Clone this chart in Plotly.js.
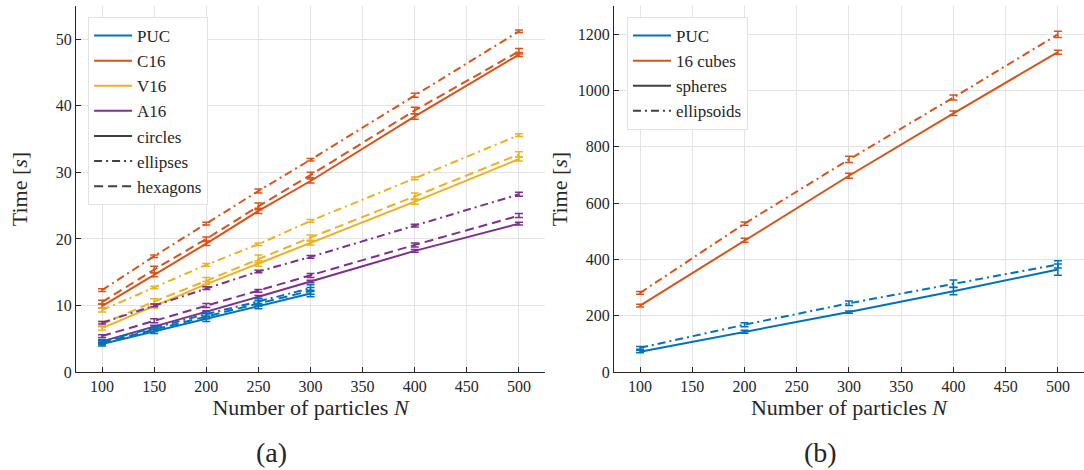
<!DOCTYPE html>
<html>
<head>
<meta charset="utf-8">
<script src="https://cdn.plot.ly/plotly-3.0.1.min.js"></script>
<style>
  html, body { margin: 0; padding: 0; background: #ffffff; }
  #chart { width: 1084px; height: 470px; }
</style>
</head>
<body>
<div id="chart"></div>
<script>
// ---- (a) 2D particles: N = number of particles ----
const nA = [100, 150, 200, 250, 300, 400, 500];
const nPUC2d = [100, 150, 200, 250, 300];

const puc_circles   = [4.2, 6.1, 8.0, 9.9, 11.8];
const puc_ellipses  = [4.6, 6.7, 8.7, 10.6, 12.6];
const puc_hexagons  = [4.4, 6.4, 8.4, 10.3, 12.2];
const puc_circles_err  = [0.3, 0.3, 0.4, 0.4, 0.5];
const puc_ellipses_err = [0.3, 0.3, 0.4, 0.4, 0.5];
const puc_hexagons_err = [0.3, 0.3, 0.4, 0.4, 0.5];

const c16_circles   = [9.9, 14.6, 19.3, 24.2, 28.7, 38.4, 47.7];
const c16_ellipses  = [12.3, 17.4, 22.3, 27.2, 31.9, 41.6, 51.2];
const c16_hexagons  = [10.5, 15.4, 20.0, 24.9, 29.6, 39.3, 48.2];
const c16_circles_err  = [0.3, 0.3, 0.3, 0.4, 0.3, 0.4, 0.3];
const c16_ellipses_err = [0.2, 0.2, 0.2, 0.3, 0.2, 0.3, 0.2];
const c16_hexagons_err = [0.3, 0.5, 0.3, 0.5, 0.4, 0.5, 0.4];

const v16_circles   = [6.6, 9.9, 13.2, 16.3, 19.4, 25.6, 32.0];
const v16_ellipses  = [9.3, 12.7, 16.1, 19.2, 22.7, 29.1, 35.6];
const v16_hexagons  = [7.2, 10.6, 13.7, 17.0, 20.2, 26.4, 32.7];
const v16_circles_err  = [0.3, 0.3, 0.4, 0.4, 0.3, 0.4, 0.3];
const v16_ellipses_err = [0.3, 0.2, 0.2, 0.2, 0.2, 0.2, 0.2];
const v16_hexagons_err = [0.4, 0.4, 0.5, 0.6, 0.4, 0.5, 0.4];

const a16_circles   = [4.6, 6.8, 9.0, 11.3, 13.6, 18.2, 22.3];
const a16_ellipses  = [7.4, 10.0, 12.6, 15.1, 17.3, 22.0, 26.7];
const a16_hexagons  = [5.4, 7.7, 10.0, 12.2, 14.5, 19.1, 23.5];
const a16_circles_err  = [0.2, 0.2, 0.2, 0.2, 0.2, 0.2, 0.2];
const a16_ellipses_err = [0.2, 0.2, 0.2, 0.2, 0.2, 0.2, 0.3];
const a16_hexagons_err = [0.2, 0.3, 0.3, 0.2, 0.3, 0.3, 0.3];

// ---- (b) 3D particles ----
const nB = [100, 200, 300, 400, 500];
const puc_spheres     = [72, 143, 213, 287, 364];
const puc_ellipsoids  = [86, 168, 244, 314, 382];
const puc_spheres_err    = [4, 5, 4, 13, 20];
const puc_ellipsoids_err = [5, 7, 8, 13, 13];
const cubes_spheres    = [236, 468, 697, 919, 1136];
const cubes_ellipsoids = [281, 527, 755, 975, 1199];
const cubes_spheres_err    = [5, 7, 9, 8, 7];
const cubes_ellipsoids_err = [5, 6, 11, 9, 11];

// MATLAB default colour order
const BLUE = '#0072BD', ORANGE = '#D95319', YELLOW = '#EDB120', PURPLE = '#7E2F8E';
const STYLE_GRAY = '#404040';
const DASHDOT = '8px,4px,2px,4px';
const DASHED = '9px,5px';
const FONT = '"Liberation Serif", "DejaVu Serif", serif';
const INK = '#262626';

function series(x, y, err, color, dash, xa, ya) {
  return {
    type: 'scatter', mode: 'lines', x: x, y: y,
    xaxis: xa, yaxis: ya, showlegend: false, hoverinfo: 'x+y',
    line: { color: color, width: 2, dash: dash },
    error_y: { type: 'data', array: err, visible: true, color: color, thickness: 1.5, width: 4 }
  };
}
function key(name, color, dash, legend) {
  const left = legend === 'legend';
  return {
    type: 'scatter', mode: 'lines', x: [null], y: [null], name: name,
    legend: legend, showlegend: true, xaxis: left ? 'x' : 'x2', yaxis: left ? 'y' : 'y2',
    line: { color: color, width: 2, dash: dash }
  };
}

const traces = [
  series(nA, c16_circles,  c16_circles_err,  ORANGE, 'solid', 'x', 'y'),
  series(nA, c16_ellipses, c16_ellipses_err, ORANGE, DASHDOT, 'x', 'y'),
  series(nA, c16_hexagons, c16_hexagons_err, ORANGE, DASHED, 'x', 'y'),
  series(nA, v16_circles,  v16_circles_err,  YELLOW, 'solid', 'x', 'y'),
  series(nA, v16_ellipses, v16_ellipses_err, YELLOW, DASHDOT, 'x', 'y'),
  series(nA, v16_hexagons, v16_hexagons_err, YELLOW, DASHED, 'x', 'y'),
  series(nA, a16_circles,  a16_circles_err,  PURPLE, 'solid', 'x', 'y'),
  series(nA, a16_ellipses, a16_ellipses_err, PURPLE, DASHDOT, 'x', 'y'),
  series(nA, a16_hexagons, a16_hexagons_err, PURPLE, DASHED, 'x', 'y'),
  series(nPUC2d, puc_circles,  puc_circles_err,  BLUE, 'solid', 'x', 'y'),
  series(nPUC2d, puc_ellipses, puc_ellipses_err, BLUE, DASHDOT, 'x', 'y'),
  series(nPUC2d, puc_hexagons, puc_hexagons_err, BLUE, DASHED, 'x', 'y'),

  series(nB, cubes_spheres,    cubes_spheres_err,    ORANGE, 'solid', 'x2', 'y2'),
  series(nB, cubes_ellipsoids, cubes_ellipsoids_err, ORANGE, DASHDOT, 'x2', 'y2'),
  series(nB, puc_spheres,      puc_spheres_err,      BLUE, 'solid', 'x2', 'y2'),
  series(nB, puc_ellipsoids,   puc_ellipsoids_err,   BLUE, DASHDOT, 'x2', 'y2'),

  key('PUC', BLUE, 'solid', 'legend'),
  key('C16', ORANGE, 'solid', 'legend'),
  key('V16', YELLOW, 'solid', 'legend'),
  key('A16', PURPLE, 'solid', 'legend'),
  key('circles', STYLE_GRAY, 'solid', 'legend'),
  key('ellipses', STYLE_GRAY, DASHDOT, 'legend'),
  key('hexagons', STYLE_GRAY, DASHED, 'legend'),

  key('PUC', BLUE, 'solid', 'legend2'),
  key('16 cubes', ORANGE, 'solid', 'legend2'),
  key('spheres', STYLE_GRAY, 'solid', 'legend2'),
  key('ellipsoids', STYLE_GRAY, DASHDOT, 'legend2')
];

const xTicks = [100, 150, 200, 250, 300, 350, 400, 450, 500];
function xaxis(domain, anchor) {
  return {
    domain: domain, anchor: anchor, range: [75, 525],
    tickvals: xTicks, ticks: 'inside', ticklen: 5, tickcolor: INK,
    showline: true, linecolor: INK, linewidth: 1, mirror: false,
    showgrid: true, gridcolor: '#e3e3e3', gridwidth: 1, zeroline: false,
    tickfont: { family: FONT, size: 16, color: INK },
    title: { text: 'Number of particles <i>N</i>', font: { family: FONT, size: 22, color: INK }, standoff: 4 }
  };
}
function yaxis(range, dtick, anchor, standoff) {
  return {
    domain: [0, 1], anchor: anchor, range: range, dtick: dtick, tick0: 0,
    ticks: 'inside', ticklen: 5, tickcolor: INK,
    showline: true, linecolor: INK, linewidth: 1, mirror: false,
    showgrid: true, gridcolor: '#e3e3e3', gridwidth: 1, zeroline: false,
    tickfont: { family: FONT, size: 16, color: INK },
    title: { text: 'Time [<i>s</i>]', font: { family: FONT, size: 22, color: INK }, standoff: standoff }
  };
}
function legendBox(x) {
  return {
    x: x, y: 0.97, xanchor: 'left', yanchor: 'top',
    bgcolor: '#ffffff', bordercolor: '#e2e2e2', borderwidth: 1,
    font: { family: FONT, size: 17, color: INK },
    itemwidth: 38, tracegroupgap: 0
  };
}

const layout = {
  width: 1084, height: 470,
  margin: { l: 76, r: 0, t: 6, b: 98 },
  paper_bgcolor: '#ffffff', plot_bgcolor: '#ffffff',
  showlegend: true,
  xaxis: xaxis([0, 0.4653], 'y'),
  yaxis: yaxis([0, 55], 10, 'x', 22),
  xaxis2: xaxis([0.5337, 1], 'y2'),
  yaxis2: yaxis([0, 1300], 200, 'x2', 4),
  legend: legendBox(0.012),
  legend2: legendBox(0.5466),
  annotations: [
    { text: '(a)', xref: 'paper', yref: 'paper', x: 0.1935, y: -0.2186, showarrow: false,
      xanchor: 'center', yanchor: 'middle', font: { family: FONT, size: 28, color: INK } },
    { text: '(b)', xref: 'paper', yref: 'paper', x: 0.739, y: -0.2186, showarrow: false,
      xanchor: 'center', yanchor: 'middle', font: { family: FONT, size: 28, color: INK } }
  ]
};

Plotly.newPlot('chart', traces, layout, { displayModeBar: false, staticPlot: true });
</script>
</body>
</html>
